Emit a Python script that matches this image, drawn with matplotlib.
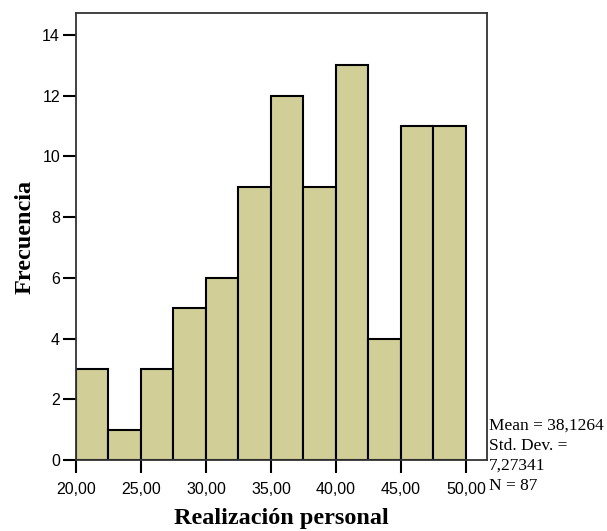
import matplotlib.pyplot as plt
import numpy as np

# histogram of "Realización personal" (bin width 2.5)
bin_edges = [20.0, 22.5, 25.0, 27.5, 30.0, 32.5, 35.0, 37.5, 40.0, 42.5, 45.0, 47.5, 50.0]
counts = [3, 1, 3, 5, 6, 9, 12, 9, 13, 4, 11, 11]
x_ticks = [20, 25, 30, 35, 40, 45, 50]
y_ticks = [0, 2, 4, 6, 8, 10, 12, 14]
stats_lines = ["Mean = 38,1264", "Std. Dev. =", "7,27341", "N = 87"]

fig = plt.figure(figsize=(6.07, 5.31), dpi=100)
ax = fig.add_axes([0.1252, 0.1337, 0.6766, 0.8409])

lefts = np.array(bin_edges[:-1])
widths = np.diff(bin_edges)
ax.bar(lefts, counts, width=widths, align='edge', color='#D2CE98',
       edgecolor='black', linewidth=1.5)

ax.set_xlim(20, 51.6)
ax.set_ylim(0, 14.7)
ax.set_xticks(x_ticks)
ax.set_xticklabels(['%d,00' % v for v in x_ticks])
ax.set_yticks(y_ticks)

for s in ax.spines.values():
    s.set_linewidth(1.3)
    s.set_color('#333333')

ax.tick_params(axis='both', direction='out', length=9.5, width=1.5,
               labelsize=11.5, color='black')
ax.tick_params(axis='y', pad=2)
ax.tick_params(axis='x', pad=6)
for lab in ax.get_xticklabels() + ax.get_yticklabels():
    lab.set_family('Liberation Sans')

ax.set_xlabel('Realización personal', family='Liberation Serif',
              fontweight='bold', fontsize=17.5, labelpad=8)
ax.set_ylabel('Frecuencia', family='Liberation Serif',
              fontweight='bold', fontsize=17.5, labelpad=5)

for i, line in enumerate(stats_lines):
    fig.text(489 / 607, 1 - (426 + i * 20) / 531, line,
             family='Liberation Serif', fontsize=12.5, va='center', ha='left')

fig.savefig('out.png', dpi=100)
